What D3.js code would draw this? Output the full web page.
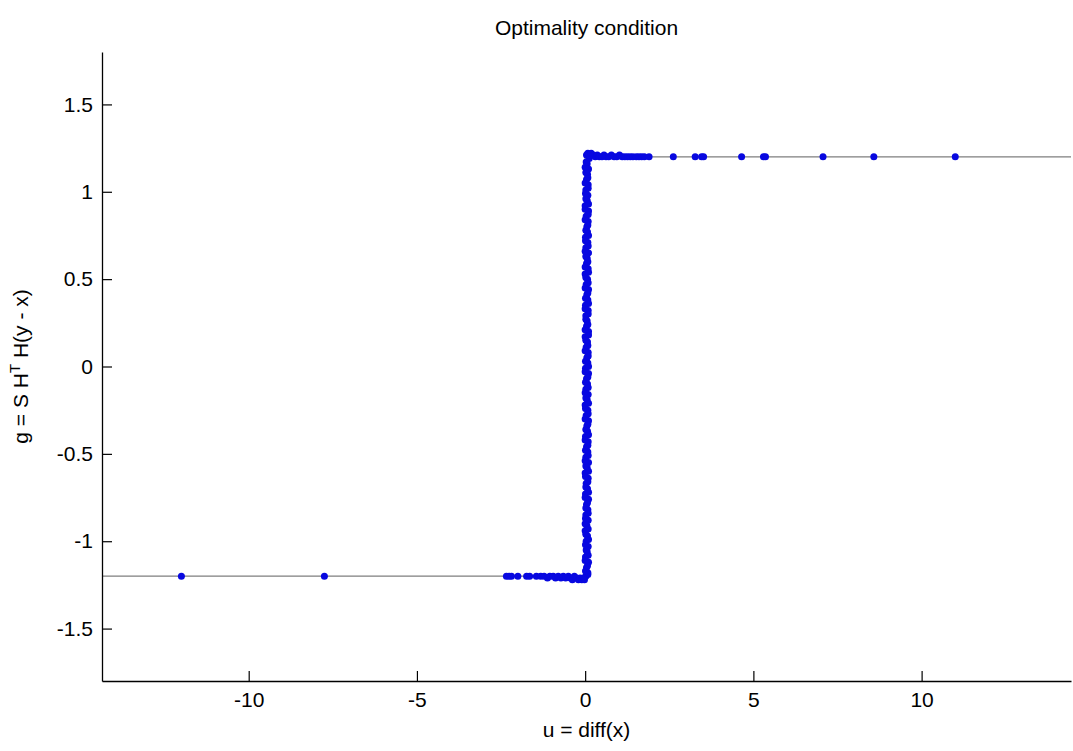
<!DOCTYPE html>
<html>
<head>
<meta charset="utf-8">
<script src="https://d3js.org/d3.v7.min.js"></script>
<style>
    body { margin: 0; background: #fff; }
    text { font-family: "Liberation Sans", Arial, sans-serif; fill: #000; }
</style>
</head>
<body>
<div id="my_dataviz"></div>
<script>

    // axis limits and ticks
    var xLimits = [-14.36, 14.44];
    var yLimits = [-1.8, 1.8];
    var xTicks = [-10, -5, 0, 5, 10];
    var yTicks = [-1.5, -1, -0.5, 0, 0.5, 1, 1.5];

    // threshold (gray step line)
    var lambda = 1.2;

    // points with u > 0 (g ~ +lambda)
    var upperU = [0.04, 0.08, 0.12, 0.18, 0.24, 0.30, 0.36, 0.42, 0.50, 0.56, 0.62, 0.70, 0.78, 0.86, 0.94,
                  1.02, 1.10, 1.18, 1.26, 1.34, 1.42, 1.52, 1.60, 1.68, 1.76, 1.90, 2.62, 3.27, 3.46, 3.52,
                  4.65, 5.30, 5.36, 7.07, 8.58, 11.0];
    var upperG = [1.21, 1.22, 1.21, 1.22, 1.21, 1.20, 1.21, 1.20, 1.20, 1.21, 1.20, 1.20, 1.21, 1.20, 1.20,
                  1.21, 1.20, 1.20, 1.20, 1.20, 1.20, 1.20, 1.20, 1.20, 1.20, 1.20, 1.20, 1.20, 1.20, 1.20,
                  1.20, 1.20, 1.20, 1.20, 1.20, 1.20];

    // points with u < 0 (g ~ -lambda)
    var lowerU = [-12.0, -7.75, -2.34, -2.26, -2.19, -2.0, -1.74, -1.65, -1.45, -1.32, -1.22, -1.12, -1.05,
                  -0.95, -0.88, -0.80, -0.72, -0.65, -0.58, -0.50, -0.44, -0.38, -0.32, -0.26, -0.20, -0.15,
                  -0.10, -0.05, -0.02];
    var lowerG = [-1.20, -1.20, -1.20, -1.20, -1.20, -1.20, -1.20, -1.20, -1.20, -1.20, -1.20, -1.21, -1.20,
                  -1.20, -1.21, -1.20, -1.21, -1.20, -1.21, -1.20, -1.21, -1.22, -1.20, -1.21, -1.22, -1.21,
                  -1.22, -1.21, -1.22];

    // points with u ~ 0 (|g| <= lambda)
    var bandU = [0.02, 0.08, 0.04, 0.10, 0.01, 0.06, 0.09, 0.03, 0.07, 0.00,
                 0.05, 0.09, 0.02, 0.08, 0.04, 0.10, 0.01, 0.07, 0.03, 0.09,
                 0.00, 0.06, 0.10, 0.02, 0.08, 0.04, 0.09, 0.01, 0.07, 0.05,
                 0.10, 0.03, 0.08, 0.00, 0.06, 0.09, 0.02, 0.07, 0.04, 0.10,
                 0.01, 0.08, 0.05, 0.09, 0.03, 0.07, 0.00, 0.10, 0.04, 0.06,
                 0.02, 0.09, 0.01, 0.08, 0.05, 0.10, 0.03, 0.07, 0.00, 0.09,
                 0.04, 0.06, 0.10, 0.02, 0.08, 0.01, 0.07, 0.05, 0.09, 0.03,
                 0.10, 0.00, 0.06, 0.08, 0.02, 0.09, 0.04, 0.07, 0.10, 0.06,
                 0.12];
    var bandG = [-1.20, -1.18, -1.15, -1.12, -1.09, -1.06, -1.03, -1.00, -0.97, -0.94,
                 -0.91, -0.88, -0.85, -0.82, -0.79, -0.76, -0.73, -0.70, -0.67, -0.64,
                 -0.61, -0.58, -0.55, -0.52, -0.49, -0.46, -0.43, -0.40, -0.37, -0.34,
                 -0.31, -0.28, -0.25, -0.22, -0.19, -0.16, -0.13, -0.10, -0.07, -0.04,
                 -0.01, 0.02, 0.05, 0.08, 0.11, 0.14, 0.17, 0.20, 0.23, 0.26,
                 0.29, 0.32, 0.35, 0.38, 0.41, 0.44, 0.47, 0.50, 0.53, 0.56,
                 0.59, 0.62, 0.65, 0.68, 0.71, 0.74, 0.77, 0.80, 0.83, 0.86,
                 0.89, 0.92, 0.95, 0.98, 1.01, 1.04, 1.07, 1.10, 1.13, 1.16,
                 1.19];
    // more points with u ~ 0, filling the other side of the band
    var band2U = [0.08, 0.01, 0.07, 0.00, 0.09, 0.03, 0.01, 0.10, 0.02, 0.09,
                  0.00, 0.01, 0.09, 0.02, 0.07, 0.00, 0.10, 0.02, 0.08, 0.01,
                  0.10, 0.02, 0.00, 0.09, 0.01, 0.08, 0.00, 0.10, 0.02, 0.08,
                  0.00, 0.09, 0.01, 0.10, 0.02, 0.00, 0.09, 0.01, 0.08, 0.00,
                  0.10, 0.01, 0.09, 0.00, 0.08, 0.02, 0.10, 0.00, 0.08, 0.02,
                  0.09, 0.00, 0.10, 0.01, 0.08, 0.00, 0.09, 0.02, 0.10, 0.00,
                  0.08, 0.02, 0.00, 0.09, 0.01, 0.10, 0.02, 0.08, 0.00, 0.09,
                  0.00, 0.10, 0.02, 0.01, 0.09, 0.00, 0.08, 0.02, 0.00, 0.03];
    var band2G = [-1.19, -1.17, -1.14, -1.11, -1.08, -1.05, -1.02, -0.99, -0.96, -0.93,
                  -0.90, -0.87, -0.84, -0.81, -0.78, -0.75, -0.72, -0.69, -0.66, -0.63,
                  -0.60, -0.57, -0.54, -0.51, -0.48, -0.45, -0.42, -0.39, -0.36, -0.33,
                  -0.30, -0.27, -0.24, -0.21, -0.18, -0.15, -0.12, -0.09, -0.06, -0.03,
                  0.00, 0.03, 0.06, 0.09, 0.12, 0.15, 0.18, 0.21, 0.24, 0.27,
                  0.30, 0.33, 0.36, 0.39, 0.42, 0.45, 0.48, 0.51, 0.54, 0.57,
                  0.60, 0.63, 0.66, 0.69, 0.72, 0.75, 0.78, 0.81, 0.84, 0.87,
                  0.90, 0.93, 0.96, 0.99, 1.02, 1.05, 1.08, 1.11, 1.14, 1.17];

    // dimensions
    var W = 1073, H = 751;
    var margin = {top: 52, right: 2, bottom: 70, left: 102};
    var width = W - margin.left - margin.right,
        height = H - margin.top - margin.bottom;

    var svg = d3.select("#my_dataviz")
        .append("svg")
        .attr("width", W)
        .attr("height", H)
        .append("g")
        .attr("transform", "translate(" + margin.left + "," + margin.top + ")");

    var x = d3.scaleLinear().domain(xLimits).range([0, width]);
    var y = d3.scaleLinear().domain(yLimits).range([height, 0]);

    // gray step line
    var stepData = [[xLimits[0], -lambda], [0, -lambda], [0, lambda], [xLimits[1], lambda]];
    svg.append("path")
        .datum(stepData)
        .attr("fill", "none")
        .attr("stroke", "#7f7f7f")
        .attr("stroke-width", 1.2)
        .attr("d", d3.line().x(function(d) { return x(d[0]); }).y(function(d) { return y(d[1]); }));

    // collect all points
    var points = [];
    bandU.forEach(function(u, i) { points.push([u, bandG[i]]); });
    band2U.forEach(function(u, i) { points.push([u, band2G[i]]); });
    lowerU.forEach(function(u, i) { points.push([u, lowerG[i]]); });
    upperU.forEach(function(u, i) { points.push([u, upperG[i]]); });

    svg.selectAll(".pt")
        .data(points)
        .enter()
        .append("circle")
        .attr("class", "pt")
        .attr("cx", function(d) { return x(d[0]); })
        .attr("cy", function(d) { return y(d[1]); })
        .attr("r", 3.5)
        .style("fill", "#0808e0");

    // axes, ticks pointing inward; plain hyphen for negatives
    var fmt = function(d) { return String(d); };
    var xAxis = svg.append("g")
        .attr("transform", "translate(0," + height + ")")
        .call(d3.axisBottom(x).tickValues(xTicks).tickSizeInner(-10).tickSizeOuter(0).tickPadding(11)
            .tickFormat(fmt));
    var yAxis = svg.append("g")
        .call(d3.axisLeft(y).tickValues(yTicks).tickSizeInner(-10).tickSizeOuter(0).tickPadding(9)
            .tickFormat(fmt));

    [xAxis, yAxis].forEach(function(a) {
        a.select(".domain").attr("stroke", "#000").attr("stroke-width", 1.3);
        a.selectAll(".tick line").attr("stroke", "#000").attr("stroke-width", 1.2);
        a.selectAll(".tick text").style("font-size", "21px").style("font-family", "Liberation Sans, Arial, sans-serif");
    });

    // title and labels
    svg.append("text")
        .attr("x", width / 2)
        .attr("y", -17)
        .attr("text-anchor", "middle")
        .style("font-size", "21px")
        .text("Optimality condition");

    svg.append("text")
        .attr("x", width / 2)
        .attr("y", height + 56)
        .attr("text-anchor", "middle")
        .style("font-size", "21px")
        .text("u = diff(x)");

    var yl = svg.append("text")
        .attr("transform", "translate(" + (-74) + "," + (height / 2) + ") rotate(-90)")
        .attr("text-anchor", "middle")
        .style("font-size", "21px");
    yl.append("tspan").text("g = S H");
    yl.append("tspan").attr("dy", -8).style("font-size", "15px").text("T");
    yl.append("tspan").attr("dy", 8).text(" H(y - x)");

</script>
</body>
</html>
